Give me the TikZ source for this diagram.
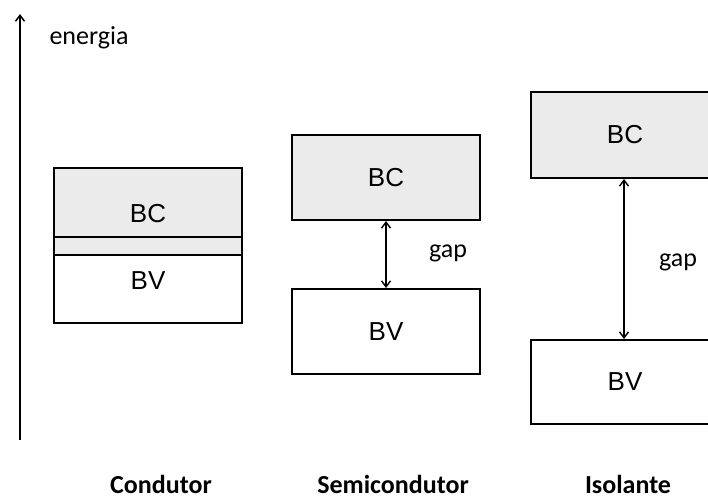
\documentclass[tikz,border=0pt]{standalone}
\usepackage{fontspec}
\setmainfont{Liberation Sans}
\newfontfamily\calfont{Carlito}
\usetikzlibrary{arrows.meta}
\definecolor{bandgray}{HTML}{EBEBEB}

\tikzset{
  band/.style={draw=black, line width=2pt, rectangle, anchor=north west,
    minimum width=188, inner sep=0pt,
    font=\fontsize{26}{30}\selectfont},
  condband/.style={band, fill=bandgray},
  valband/.style={band},
  bandtext/.style={font=\fontsize{26}{30}\selectfont},
  gaparrow/.style={line width=1.4pt, {Straight Barb[length=6pt,width=9pt]}-{Straight Barb[length=6pt,width=9pt]}},
  lbl/.style={font=\calfont\fontsize{26}{30}\selectfont},
  kind/.style={font=\calfont\bfseries\fontsize{26}{30}\selectfont, inner sep=0pt}
}

\begin{document}
\begin{tikzpicture}[x=1pt, y=-1pt]
\useasboundingbox (0,0) rectangle (708,499);
\clip (0,0) rectangle (708,499);

% energy axis
\coordinate (ax0) at (20,440);
\coordinate (ax1) at (20,14);
\draw[line width=1.5pt, -{Straight Barb[length=6pt,width=9pt]}] (ax0) -- (ax1);
\node[lbl, anchor=west] (energia) at (46,38) {energia};

% conductor: overlapping bands
\node[condband, minimum height=87] (cbc) at (53,167) {};
\node[valband, minimum height=86] (cbv) at (53,236) {};
\node[bandtext] (cbct) at ([yshift=-2pt]cbc.center) {BC};
\node[bandtext] (cbvt) at ([yshift=-1pt]cbv.center) {BV};

% semiconductor
\node[condband, minimum height=85] (sbc) at (291,134) {BC};
\node[valband, minimum height=85] (sbv) at (291,288) {BV};
\draw[gaparrow] (sbc.south) -- (sbv.north);
\node[lbl] (sgap) at (448,253) {gap};

% insulator
\node[condband, minimum height=86] (ibc) at (530,91) {BC};
\node[valband, minimum height=84] (ibv) at (530,339) {BV};
\draw[gaparrow] ([xshift=-1pt]ibc.south) -- ([xshift=-1pt]ibv.north);
\node[lbl] (igap) at (678,262) {gap};

% material names
\node[kind] (ncond) at (161,484) {Condutor};
\node[kind] (nsemi) at (393,484) {Semicondutor};
\node[kind] (niso) at (628,484.5) {Isolante};
\end{tikzpicture}
\end{document}
